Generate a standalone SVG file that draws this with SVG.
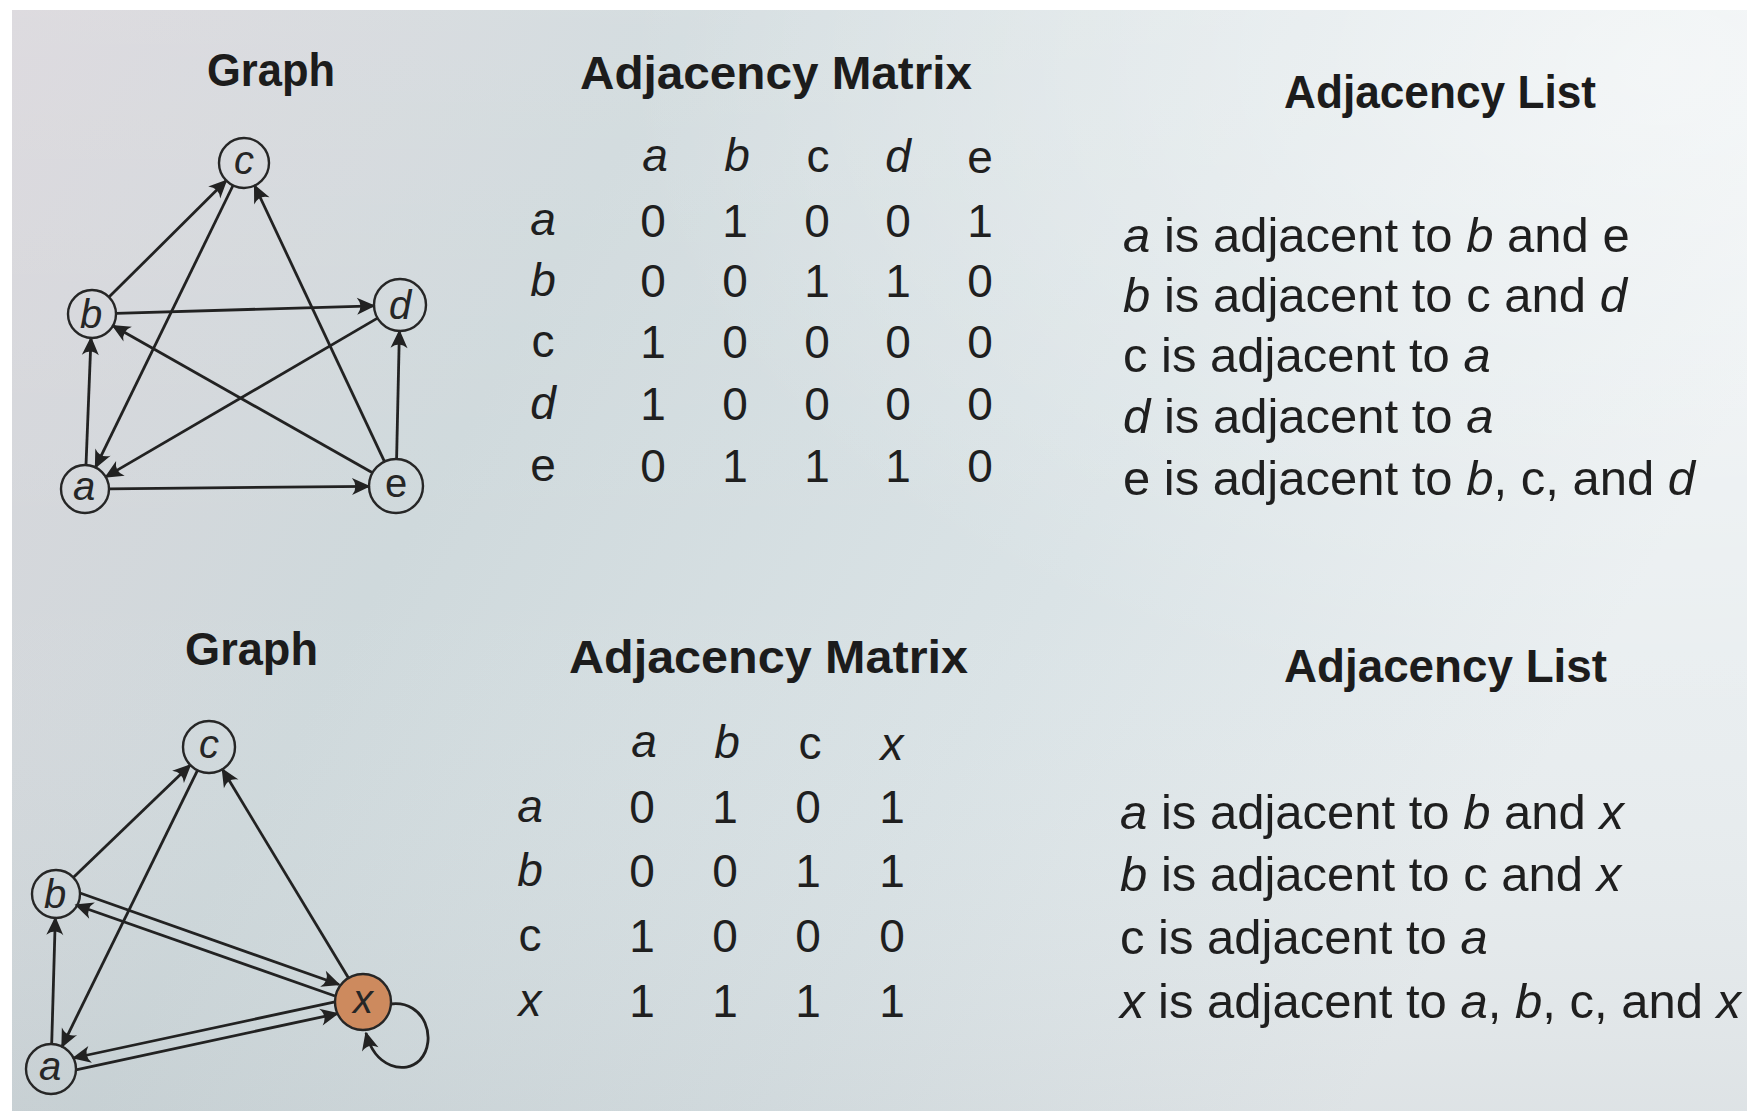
<svg xmlns="http://www.w3.org/2000/svg" width="1747" height="1111" viewBox="0 0 1747 1111">
<style>
  .hdr { font-family: "Liberation Sans", Arial, sans-serif; font-weight: bold; font-size: 46px; fill: #1c1c1c; }
  .mx { font-family: "Liberation Sans", Arial, sans-serif; font-size: 46px; fill: #1f1f1f; text-anchor: middle; }
  .ls { font-family: "Liberation Sans", Arial, sans-serif; font-size: 49px; fill: #1f1f1f; }
  .it { font-style: italic; }
  .node { fill: none; stroke: #262626; stroke-width: 2.4; }
  .nodeX { fill: #cd8a5e; stroke: #262626; stroke-width: 2.4; }
  .nl { font-family: "Liberation Sans", Arial, sans-serif; font-size: 40px; fill: #262626; text-anchor: middle; font-style: italic; }
  .nlu { font-style: normal; }
  .edge { fill: none; stroke: #222222; stroke-width: 2.8; marker-end: url(#arr); }
</style>
<defs>
  <marker id="arr" markerUnits="userSpaceOnUse" viewBox="-20 -11 22 22" markerWidth="22" markerHeight="22" refX="0" refY="0" orient="auto">
    <path d="M1.5,0 L-17,-8.5 Q-10,0 -17,8.5 Z" fill="#222222"/>
  </marker>
  <linearGradient id="paper" x1="0" y1="0" x2="1" y2="0.35">
    <stop offset="0" stop-color="#d9d6db"/>
    <stop offset="0.35" stop-color="#cfd9dc"/>
    <stop offset="0.7" stop-color="#dae3e6"/>
    <stop offset="1" stop-color="#e9eef0"/>
  </linearGradient>
  <radialGradient id="glow" cx="0.95" cy="0.05" r="0.6">
    <stop offset="0" stop-color="#ffffff" stop-opacity="0.55"/>
    <stop offset="1" stop-color="#ffffff" stop-opacity="0"/>
  </radialGradient>
  <linearGradient id="shade" x1="0" y1="0" x2="0" y2="1">
    <stop offset="0" stop-color="#ffffff" stop-opacity="0.12"/>
    <stop offset="0.5" stop-color="#ffffff" stop-opacity="0"/>
    <stop offset="1" stop-color="#8a9096" stop-opacity="0.12"/>
  </linearGradient>
</defs>

<rect x="0" y="0" width="1747" height="1111" fill="#ffffff"/>
<rect x="12" y="10" width="1735" height="1101" fill="url(#paper)"/>
<rect x="12" y="10" width="1735" height="1101" fill="url(#shade)"/>
<rect x="12" y="10" width="1735" height="1101" fill="url(#glow)"/>

<!-- Headers -->
<g id="headers">
  <text class="hdr" x="207" y="86" textLength="128" lengthAdjust="spacingAndGlyphs">Graph</text>
  <text class="hdr" x="580" y="89" textLength="392" lengthAdjust="spacingAndGlyphs">Adjacency Matrix</text>
  <text class="hdr" x="1284" y="108" textLength="312" lengthAdjust="spacingAndGlyphs">Adjacency List</text>
  <text class="hdr" x="185" y="665" textLength="133" lengthAdjust="spacingAndGlyphs">Graph</text>
  <text class="hdr" x="569" y="673" textLength="399" lengthAdjust="spacingAndGlyphs">Adjacency Matrix</text>
  <text class="hdr" x="1284" y="682" textLength="323" lengthAdjust="spacingAndGlyphs">Adjacency List</text>
</g>

<!-- Graph 1 connectors -->
<g id="edges1">
  <line class="edge" x1="86" y1="465" x2="91" y2="338"/>
  <line class="edge" x1="109" y1="488.8" x2="369" y2="486.3"/>
  <line class="edge" x1="109" y1="297.1" x2="226.3" y2="180.6"/>
  <line class="edge" x1="116" y1="313.3" x2="374" y2="305.8"/>
  <line class="edge" x1="233" y1="185.5" x2="95.5" y2="467.4"/>
  <line class="edge" x1="377.5" y1="318.1" x2="105.7" y2="476.9"/>
  <line class="edge" x1="372.5" y1="472.7" x2="112.9" y2="325.8"/>
  <line class="edge" x1="384.5" y1="461.6" x2="254.6" y2="185.6"/>
  <line class="edge" x1="396.6" y1="459" x2="399.4" y2="331"/>
</g>

<!-- Graph 1 nodes -->
<g id="g1-c"><circle class="node" cx="244" cy="163" r="25"/><text class="nl" x="244" y="174">c</text></g>
<g id="g1-b"><circle class="node" cx="92" cy="314" r="24"/><text class="nl" x="91" y="328">b</text></g>
<g id="g1-d"><circle class="node" cx="400" cy="305" r="26"/><text class="nl" x="400" y="319">d</text></g>
<g id="g1-a"><circle class="node" cx="85" cy="489" r="24"/><text class="nl" x="84" y="500">a</text></g>
<g id="g1-e"><circle class="node" cx="396" cy="486" r="27"/><text class="nl nlu" x="396" y="497">e</text></g>

<!-- Matrix 1 -->
<g id="matrix1">
  <text class="mx it" x="655" y="171">a</text>
  <text class="mx it" x="737" y="171">b</text>
  <text class="mx" x="818" y="172">c</text>
  <text class="mx it" x="898" y="172">d</text>
  <text class="mx" x="980" y="173">e</text>

  <text class="mx it" x="543" y="235">a</text>
  <text class="mx" x="653" y="237">0</text><text class="mx" x="735" y="237">1</text><text class="mx" x="817" y="237">0</text><text class="mx" x="898" y="237">0</text><text class="mx" x="980" y="237">1</text>

  <text class="mx it" x="543" y="296">b</text>
  <text class="mx" x="653" y="297">0</text><text class="mx" x="735" y="297">0</text><text class="mx" x="817" y="297">1</text><text class="mx" x="898" y="297">1</text><text class="mx" x="980" y="297">0</text>

  <text class="mx" x="543" y="357">c</text>
  <text class="mx" x="653" y="358">1</text><text class="mx" x="735" y="358">0</text><text class="mx" x="817" y="358">0</text><text class="mx" x="898" y="358">0</text><text class="mx" x="980" y="358">0</text>

  <text class="mx it" x="543" y="419">d</text>
  <text class="mx" x="653" y="420">1</text><text class="mx" x="735" y="420">0</text><text class="mx" x="817" y="420">0</text><text class="mx" x="898" y="420">0</text><text class="mx" x="980" y="420">0</text>

  <text class="mx" x="543" y="481">e</text>
  <text class="mx" x="653" y="482">0</text><text class="mx" x="735" y="482">1</text><text class="mx" x="817" y="482">1</text><text class="mx" x="898" y="482">1</text><text class="mx" x="980" y="482">0</text>
</g>

<!-- List 1 -->
<g id="list1">
  <text class="ls" x="1123" y="252"><tspan class="it">a</tspan> is adjacent to <tspan class="it">b</tspan> and e</text>
  <text class="ls" x="1123" y="312"><tspan class="it">b</tspan> is adjacent to c and <tspan class="it">d</tspan></text>
  <text class="ls" x="1123" y="372">c is adjacent to <tspan class="it">a</tspan></text>
  <text class="ls" x="1123" y="433"><tspan class="it">d</tspan> is adjacent to <tspan class="it">a</tspan></text>
  <text class="ls" x="1123" y="495">e is adjacent to <tspan class="it">b</tspan>, c, and <tspan class="it">d</tspan></text>
</g>

<!-- Graph 2 connectors -->
<g id="edges2">
  <line class="edge" x1="51.7" y1="1044" x2="55.3" y2="918"/>
  <line class="edge" x1="73.3" y1="877.4" x2="190.3" y2="765"/>
  <line class="edge" x1="197.5" y1="770.3" x2="62" y2="1046.6"/>
  <line class="edge" x1="348.5" y1="978" x2="222.4" y2="769.3"/>
  <line class="edge" x1="80" y1="893" x2="339" y2="984.5"/>
  <line class="edge" x1="335" y1="996" x2="76" y2="905"/>
  <line class="edge" x1="335" y1="1001.9" x2="73.5" y2="1058"/>
  <line class="edge" x1="76" y1="1069.8" x2="337.5" y2="1013.6"/>
  <path class="edge" d="M391,1004 C425,1000 438,1040 420,1060 C405,1075 375,1068 366,1033"/>
</g>

<!-- Graph 2 nodes -->
<g id="g2-c"><circle class="node" cx="209" cy="747" r="26"/><text class="nl" x="209" y="758">c</text></g>
<g id="g2-b"><circle class="node" cx="56" cy="894" r="24"/><text class="nl" x="55" y="908">b</text></g>
<g id="g2-a"><circle class="node" cx="51" cy="1069" r="25"/><text class="nl" x="50" y="1080">a</text></g>
<g id="g2-x"><circle class="nodeX" cx="363" cy="1002" r="28"/><text class="nl" x="363" y="1013">x</text></g>

<!-- Matrix 2 -->
<g id="matrix2">
  <text class="mx it" x="644" y="757">a</text>
  <text class="mx it" x="727" y="758">b</text>
  <text class="mx" x="810" y="759">c</text>
  <text class="mx it" x="892" y="760">x</text>

  <text class="mx it" x="530" y="822">a</text>
  <text class="mx" x="642" y="823">0</text><text class="mx" x="725" y="823">1</text><text class="mx" x="808" y="823">0</text><text class="mx" x="892" y="823">1</text>

  <text class="mx it" x="530" y="886">b</text>
  <text class="mx" x="642" y="887">0</text><text class="mx" x="725" y="887">0</text><text class="mx" x="808" y="887">1</text><text class="mx" x="892" y="887">1</text>

  <text class="mx" x="530" y="951">c</text>
  <text class="mx" x="642" y="952">1</text><text class="mx" x="725" y="952">0</text><text class="mx" x="808" y="952">0</text><text class="mx" x="892" y="952">0</text>

  <text class="mx it" x="530" y="1016">x</text>
  <text class="mx" x="642" y="1017">1</text><text class="mx" x="725" y="1017">1</text><text class="mx" x="808" y="1017">1</text><text class="mx" x="892" y="1017">1</text>
</g>

<!-- List 2 -->
<g id="list2">
  <text class="ls" x="1120" y="829"><tspan class="it">a</tspan> is adjacent to <tspan class="it">b</tspan> and <tspan class="it">x</tspan></text>
  <text class="ls" x="1120" y="891"><tspan class="it">b</tspan> is adjacent to c and <tspan class="it">x</tspan></text>
  <text class="ls" x="1120" y="954">c is adjacent to <tspan class="it">a</tspan></text>
  <text class="ls" x="1120" y="1018"><tspan class="it">x</tspan> is adjacent to <tspan class="it">a</tspan>, <tspan class="it">b</tspan>, c, and <tspan class="it">x</tspan></text>
</g>
</svg>
